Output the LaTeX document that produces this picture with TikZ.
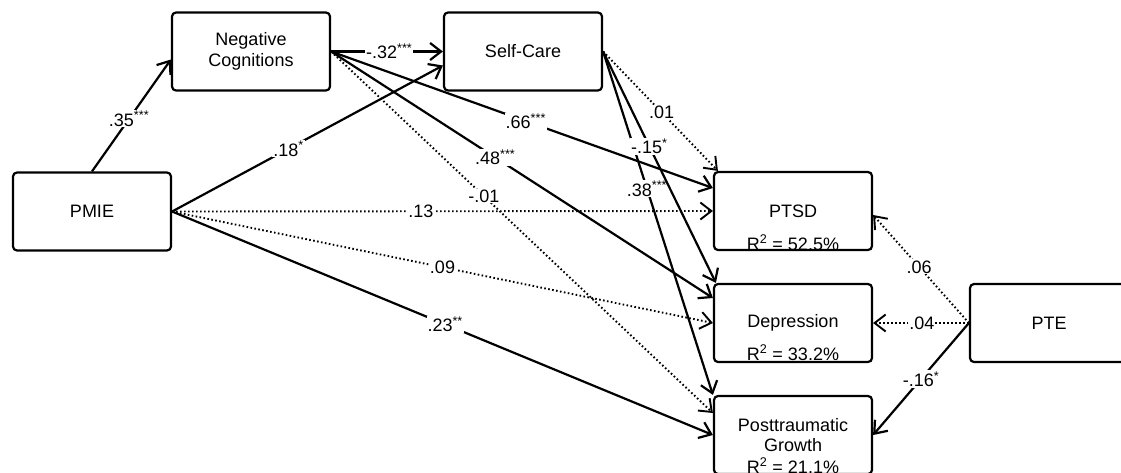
\documentclass[tikz,border=0pt]{standalone}
\usepackage{fontspec}
\setmainfont{Liberation Sans}
\usetikzlibrary{arrows.meta}

\begin{document}
\begin{tikzpicture}[x=1pt, y=-1pt, font=\fontsize{18}{20.5}\selectfont,
    >={Straight Barb[length=11pt,width=17pt]},
    var/.style={draw, line width=2.2pt, rounded corners=4pt, minimum width=158pt, minimum height=78pt, align=center, inner sep=0pt},
    eff/.style={->, line width=2.2pt},
    ns/.style={->, line width=1.9pt, dash pattern=on 1.6pt off 2.4pt},
    coef/.style={fill=white, inner sep=1pt},
    rsq/.style={anchor=base}]
        \useasboundingbox (0,0) rectangle (1121,472);
        \clip (0,0) rectangle (1121,472);
        \node[var] (pmie) at (92,211.5) {PMIE};
        \node[var] (negcog) at (251,51.5) {Negative\\Cognitions};
        \node[var] (self) at (523,51.5) {Self-Care};
        \node[var] (ptsd) at (793,211) {PTSD};
        \node[var] (dep) at (793,323) {Depression};
        \node[var] (ptg) at (793,435) {Posttraumatic\\Growth};
        \node[var] (pte) at (1049,323) {PTE};
        \node[rsq] (ptsdr) at ([yshift=1pt]ptsd.south) {R\textsuperscript{2} = 52.5\%};
        \node[rsq] (depr) at ([yshift=3pt]dep.south) {R\textsuperscript{2} = 33.2\%};
        \node[rsq] (ptgr) at ([yshift=2pt]ptg.south) {R\textsuperscript{2} = 21.1\%};
        \draw[eff] (pmie.north) -- ([yshift=-8pt]negcog.west) node[coef, pos=.47] {.35\textsuperscript{***}};
        \draw[eff] (negcog.east) -- (self.west) node[coef, pos=.52] {-.32\textsuperscript{***}};
        \draw[eff] (pmie.east) -- ([yshift=-14pt]self.west) node[coef, pos=.43] {.18\textsuperscript{*}};
        \draw[eff] (negcog.east) -- ([yshift=23pt]ptsd.west) node[coef, pos=.51] {.66\textsuperscript{***}};
        \draw[eff] (negcog.east) -- ([yshift=25pt]dep.west) node[coef, pos=.43] {.48\textsuperscript{***}};
        \draw[ns] (negcog.east) -- ([yshift=22pt]ptg.west) node[coef, pos=.40] {-.01};
        \draw[ns] (pmie.east) -- (ptsd.west) node[coef, pos=.46] {.13};
        \draw[ns] (pmie.east) -- (dep.west) node[coef, pos=.50] {.09};
        \draw[eff] (pmie.east) -- (ptg.west) node[coef, pos=.505] {.23\textsuperscript{**}};
        \draw[ns] (self.east) -- ([xshift=5pt]ptsd.north west) node[coef, pos=.51] {.01};
        \draw[eff] (self.east) -- (ptg.north west) node[coef, pos=.40] {.38\textsuperscript{***}};
        \draw[eff] (self.east) -- ([xshift=3pt]dep.north west) node[coef, pos=.41] {-.15\textsuperscript{*}};
        \draw[ns] (pte.west) -- ([yshift=-4pt]ptsd.east) node[coef, pos=.52] {.06};
        \draw[ns] (pte.west) -- (dep.east) node[coef, pos=.49] {.04};
        \draw[eff] (pte.west) -- (ptg.east) node[coef, pos=.5] {-.16\textsuperscript{*}};
\end{tikzpicture}
\end{document}
